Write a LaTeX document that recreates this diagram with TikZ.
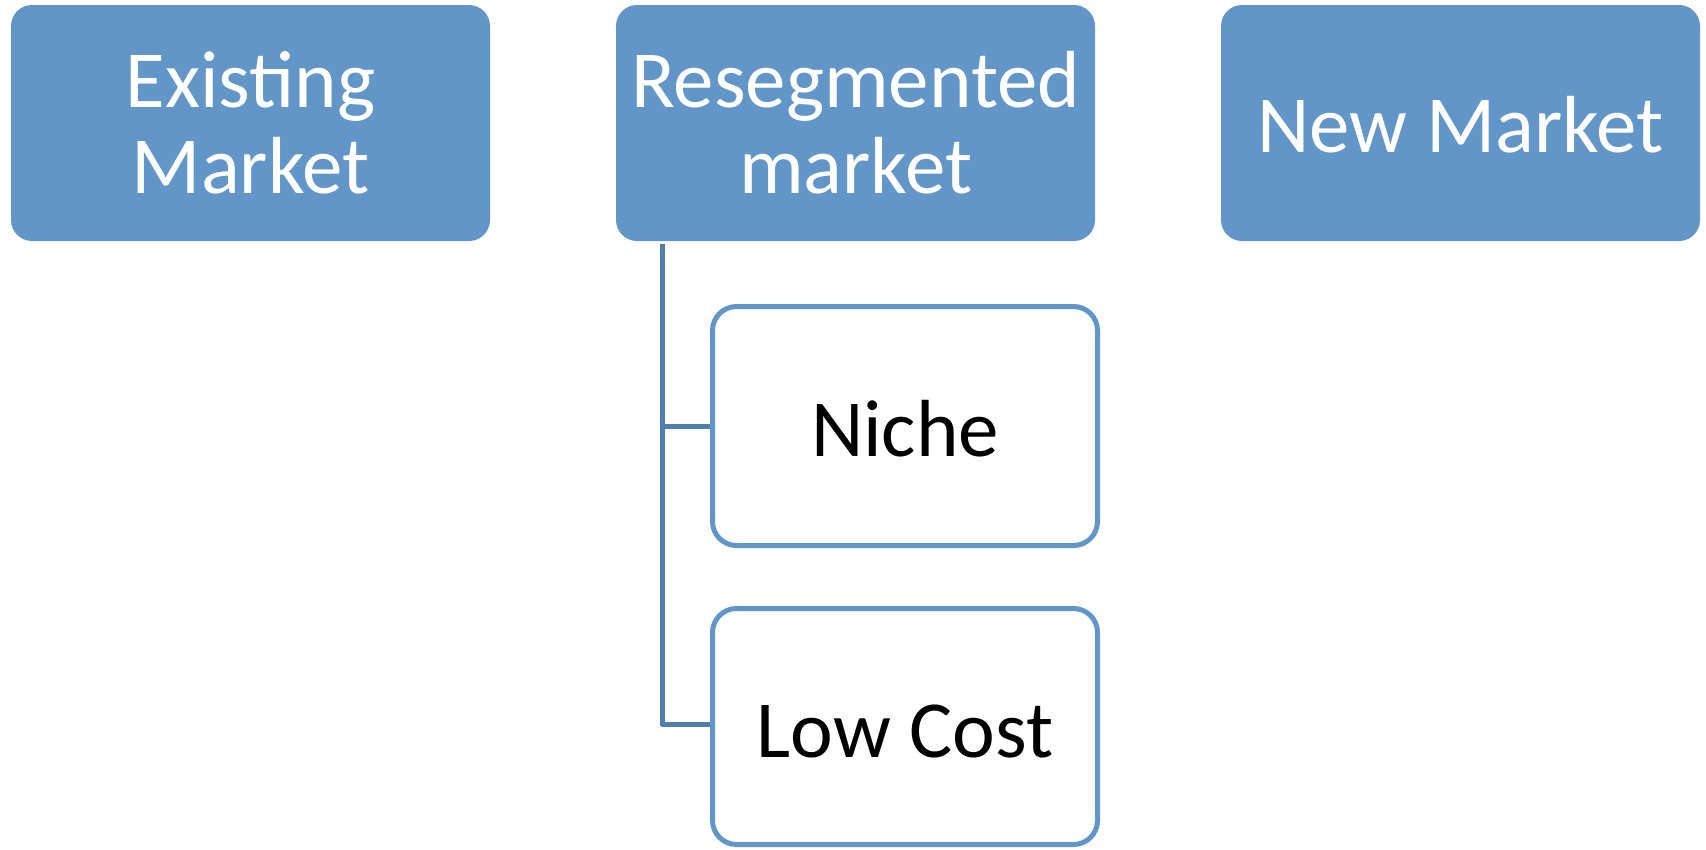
\documentclass[tikz,border=0pt]{standalone}
\usepackage{fontspec}
\setmainfont{Carlito}
\definecolor{boxfill}{RGB}{98,149,200}
\definecolor{connblue}{RGB}{80,127,175}
\tikzset{
  topbox/.style={fill=boxfill, rounded corners=21pt, minimum width=479pt, minimum height=236pt,
    inner sep=0pt, text=white, align=center, font=\fontsize{81pt}{86pt}\selectfont},
  childbox/.style={draw=boxfill, line width=5pt, fill=white, rounded corners=24pt, minimum width=385pt,
    inner sep=0pt, text=black, text height=61pt, text depth=0pt, font=\fontsize{81pt}{86pt}\selectfont},
  conn/.style={draw=connblue, line width=5pt, line join=round},
}
\begin{document}
\begin{tikzpicture}[x=1pt,y=-1pt]
\useasboundingbox (0,0) rectangle (1706,849);
\node[topbox] (existing) at (250.5,123) {Existing\\Market};
\node[topbox] (reseg) at (855.5,123) {Resegmented\\market};
\node[topbox, text height=58pt, text depth=0pt] (newm) at (1460.5,123) {New Market};
\node[childbox, minimum height=239pt] (niche) at (905,426) {Niche};
\node[childbox, minimum height=236pt] (low) at (905,726.5) {Low Cost};
\coordinate (trunk) at (662,244);
\draw[conn] (trunk) |- (niche.west);
\draw[conn] (trunk) |- ([yshift=2.5pt]low.west);
\end{tikzpicture}
\end{document}
